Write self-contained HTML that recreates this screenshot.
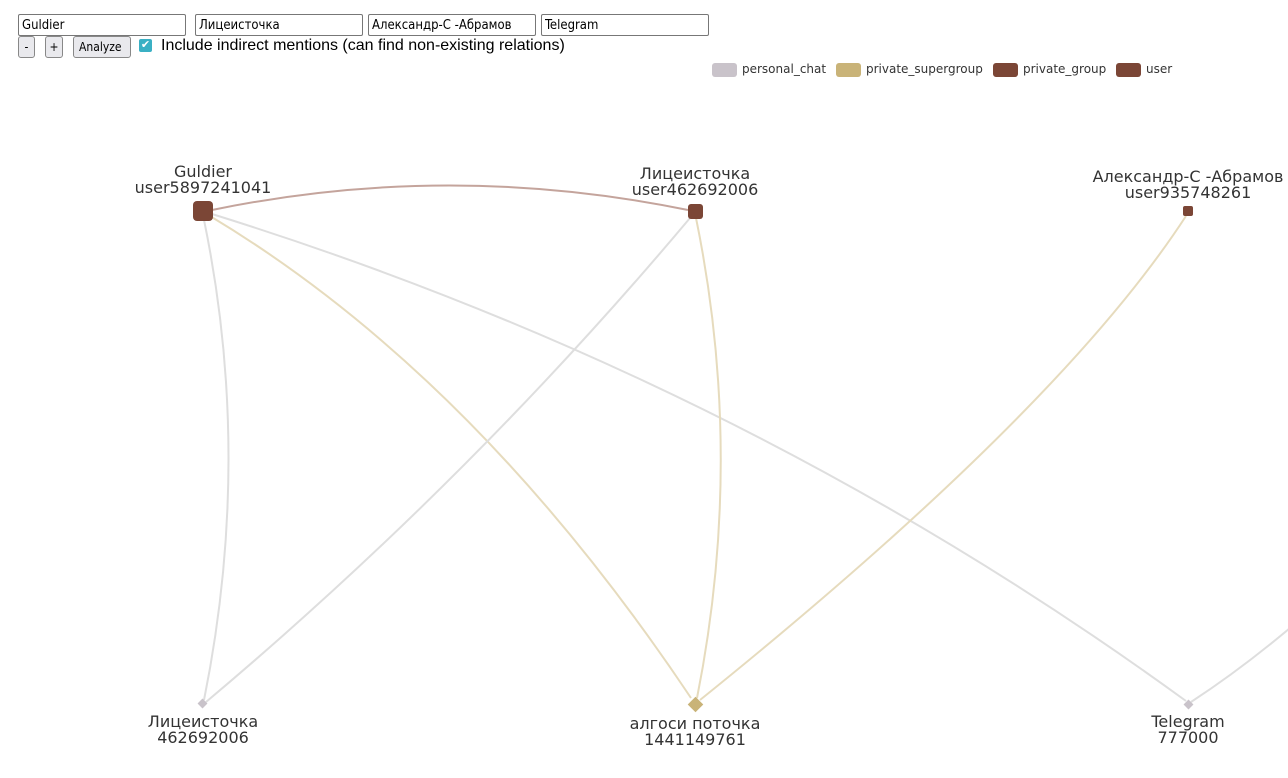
<!DOCTYPE html>
<html><head><meta charset="utf-8"><style>
body{margin:0;width:1288px;height:778px;background:#fff;overflow:hidden;font-family:"Liberation Sans","Noto Sans CJK SC",sans-serif;position:relative}
input[type=text]{position:absolute;top:14px;height:22px;box-sizing:border-box;border:1px solid #777;border-radius:2px;font:13px "DejaVu Sans Condensed","DejaVu Sans",sans-serif;padding:1px 3px}
.btn{position:absolute;top:36px;height:22px;box-sizing:border-box;border:1px solid #888;border-radius:3px;background:#e9e9ed;font:12px "DejaVu Sans Condensed","DejaVu Sans",sans-serif;padding:0 5px;line-height:20px}
.lbl{font-family:"DejaVu Sans",sans-serif;font-size:16px;fill:#333;text-anchor:middle}
.leg{font-family:"DejaVu Sans",sans-serif;font-size:12px;fill:#333}
</style></head><body>
<input type="text" value="Guldier" style="left:18px;width:168px">
<input type="text" value="Лицеисточка" style="left:195px;width:168px">
<input type="text" value="Александр-С -Абрамов" style="left:368px;width:168px">
<input type="text" value="Telegram" style="left:541px;width:168px">
<div class="btn" style="left:18px;width:17px;padding:0;text-align:center">-</div>
<div class="btn" style="left:45px;width:18px;padding:0;text-align:center">+</div>
<div class="btn" style="left:73px;width:58px">Analyze</div>
<div style="position:absolute;left:139px;top:39px;width:13px;height:13px;background:#3ab0c4;border-radius:2px;color:#fff;font-size:11px;line-height:13px;text-align:center">✔</div>
<div style="position:absolute;left:161px;top:37px;font-size:16px;color:#000">Include indirect mentions (can find non-existing relations)</div>
<svg width="1288" height="778" style="position:absolute;left:0;top:0">
<g>
<rect x="712" y="63" width="25" height="14" rx="3" fill="#c9c3ca"/><text class="leg" x="742" y="73">personal_chat</text>
<rect x="836" y="63" width="25" height="14" rx="3" fill="#c9b378"/><text class="leg" x="866" y="73">private_supergroup</text>
<rect x="993" y="63" width="25" height="14" rx="3" fill="#7b4636"/><text class="leg" x="1023" y="73">private_group</text>
<rect x="1116" y="63" width="25" height="14" rx="3" fill="#7b4636"/><text class="leg" x="1146" y="73">user</text>
</g>
<g fill="none" stroke-width="2">
<path d="M212,210 Q449,161 688,210" stroke="#c4a49c"/>
<path d="M204,220 Q253,457 204,700" stroke="#dedede"/>
<path d="M210,216 Q475,375 691,698" stroke="#e6dbbd"/>
<path d="M212,214 Q745,380 1186,701" stroke="#dedede"/>
<path d="M690,218 Q470,480 206,702" stroke="#dedede"/>
<path d="M696,218 Q745,457 697,698" stroke="#e6dbbd"/>
<path d="M1186,216 Q1060,410 700,700" stroke="#e6dbbd"/>
<path d="M1290,628 Q1240,670 1191,702" stroke="#dedede"/>
</g>
<rect x="193" y="201" width="20" height="20" rx="4" fill="#7b4636"/>
<rect x="688" y="204" width="15" height="15" rx="3" fill="#7b4636"/>
<rect x="1183" y="206" width="10" height="10" rx="2" fill="#7b4636"/>
<rect x="199" y="700" width="7" height="7" fill="#c9c3ca" transform="rotate(45 202.5 703.5)"/>
<rect x="690" y="699" width="11" height="11" fill="#c9b378" transform="rotate(45 695.5 704.5)"/>
<rect x="1185" y="701" width="7" height="7" fill="#c9c3ca" transform="rotate(45 1188.5 704.5)"/>
<text class="lbl" x="203" y="177">Guldier</text>
<text class="lbl" x="203" y="193">user5897241041</text>
<text class="lbl" x="695" y="179">Лицеисточка</text>
<text class="lbl" x="695" y="195">user462692006</text>
<text class="lbl" x="1188" y="182">Александр-С -Абрамов</text>
<text class="lbl" x="1188" y="198">user935748261</text>
<text class="lbl" x="203" y="727">Лицеисточка</text>
<text class="lbl" x="203" y="743">462692006</text>
<text class="lbl" x="695" y="729">алгоси поточка</text>
<text class="lbl" x="695" y="745">1441149761</text>
<text class="lbl" x="1188" y="727">Telegram</text>
<text class="lbl" x="1188" y="743">777000</text>
</svg>
</body></html>
